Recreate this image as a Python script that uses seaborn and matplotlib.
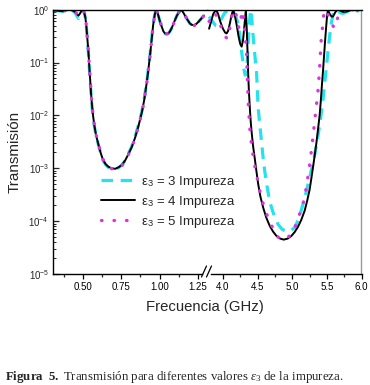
import matplotlib
matplotlib.use("Agg")
import matplotlib.pyplot as plt
from matplotlib.lines import Line2D
from matplotlib.ticker import FixedLocator, MultipleLocator, LogLocator, NullFormatter
import seaborn as sns

# ---------------- data ----------------
freq_left = [0.30, 0.34, 0.37, 0.40, 0.43, 0.45, 0.462, 0.47, 0.478, 0.488, 0.497,
             0.507, 0.515, 0.521, 0.526, 0.531, 0.536, 0.541, 0.547, 0.552, 0.558,
             0.565, 0.573, 0.585, 0.60, 0.615, 0.63, 0.647, 0.665, 0.687, 0.71,
             0.733, 0.755, 0.775, 0.795, 0.818, 0.84, 0.862, 0.885, 0.90, 0.917,
             0.928, 0.938, 0.948, 0.958, 0.968, 0.977, 0.988, 1.003, 1.015, 1.025,
             1.036, 1.047, 1.057, 1.068, 1.079, 1.09, 1.10, 1.112, 1.125, 1.14,
             1.152, 1.166, 1.18, 1.198, 1.212, 1.226, 1.24, 1.257, 1.275, 1.29]
T_left_e3 = [0.97, 0.95, 0.93, 1.0, 0.97, 0.86, 0.74, 0.68, 0.76, 0.92, 1.0,
             0.88, 0.70, 0.49, 0.32, 0.21, 0.135, 0.077, 0.042, 0.025, 0.0150,
             0.0096, 0.0064, 0.0041, 0.0028, 0.00192, 0.00142, 0.00118, 0.00104, 0.00097, 0.00096,
             0.00103, 0.00116, 0.00140, 0.00186, 0.0026, 0.0040, 0.0066, 0.0122, 0.021, 0.045,
             0.082, 0.145, 0.28, 0.52, 0.80, 1.0, 0.85, 0.59, 0.47, 0.39,
             0.355, 0.345, 0.355, 0.39, 0.45, 0.54, 0.63, 0.76, 0.89, 1.0,
             0.91, 0.78, 0.66, 0.55, 0.51, 0.51, 0.54, 0.60, 0.69, 0.78]
T_left_e4 = [0.977, 0.955, 0.933, 1.0, 0.977, 0.891, 0.813, 0.776, 0.832, 0.933, 1.0,
             0.891, 0.708, 0.501, 0.331, 0.219, 0.141, 0.0794, 0.0437, 0.0263, 0.0158,
             0.0100, 0.00661, 0.00417, 0.00282, 0.00195, 0.00145, 0.00120, 0.00107, 0.00100, 0.000977,
             0.00105, 0.00117, 0.00141, 0.00182, 0.00251, 0.00380, 0.00631, 0.0117, 0.0200, 0.0437,
             0.0794, 0.141, 0.269, 0.513, 0.794, 1.0, 0.851, 0.589, 0.468, 0.389,
             0.355, 0.347, 0.355, 0.389, 0.447, 0.537, 0.631, 0.759, 0.891, 1.0,
             0.912, 0.776, 0.661, 0.550, 0.513, 0.513, 0.537, 0.603, 0.692, 0.776]
T_left_e5 = [0.98, 0.96, 0.93, 1.0, 0.98, 0.90, 0.82, 0.78, 0.84, 0.94, 1.0,
             0.90, 0.72, 0.51, 0.34, 0.225, 0.145, 0.082, 0.045, 0.027, 0.0162,
             0.0103, 0.0068, 0.0043, 0.0029, 0.0020, 0.00148, 0.00121, 0.00106, 0.00098, 0.00094,
             0.00101, 0.00113, 0.00137, 0.00178, 0.00246, 0.0037, 0.0062, 0.0114, 0.0196, 0.042,
             0.078, 0.138, 0.265, 0.50, 0.79, 1.0, 0.86, 0.60, 0.47, 0.40,
             0.36, 0.35, 0.36, 0.39, 0.45, 0.53, 0.62, 0.75, 0.89, 1.0,
             0.91, 0.78, 0.66, 0.55, 0.51, 0.50, 0.53, 0.59, 0.68, 0.77]

freq_right_e3 = [3.80, 3.85, 3.89, 3.92, 3.95, 3.98, 4.02, 4.06, 4.10, 4.14, 4.18,
                 4.21, 4.24, 4.27, 4.30, 4.32, 4.335, 4.35, 4.365, 4.38, 4.395,
                 4.403, 4.415, 4.432, 4.46, 4.485, 4.508, 4.53, 4.557, 4.58, 4.604,
                 4.64, 4.676, 4.72, 4.76, 4.796, 4.85, 4.921, 4.98, 5.036, 5.09,
                 5.151, 5.20, 5.252, 5.29, 5.324, 5.371, 5.41, 5.443, 5.47, 5.492,
                 5.515, 5.54, 5.565, 5.587, 5.61, 5.626, 5.66, 5.70, 5.73, 5.755,
                 5.80, 5.856, 5.91, 5.97]
T_right_e3 = [0.74, 0.60, 0.51, 0.50, 0.56, 0.68, 0.85, 0.95, 1.0, 0.93, 0.79,
              0.60, 0.355, 0.158, 0.079, 0.058, 0.060, 0.10, 0.24, 0.52, 0.89,
              1.0, 0.71, 0.36, 0.141, 0.066, 0.0141, 0.0071, 0.00316, 0.00158, 8.7e-4,
              4.3e-4, 2.34e-4, 1.51e-4, 1.10e-4, 8.7e-5, 7.1e-5, 6.3e-5, 6.6e-5, 7.6e-5, 1.07e-4,
              2.0e-4, 3.5e-4, 6.6e-4, 1.12e-3, 1.78e-3, 4.0e-3, 8.9e-3, 0.019, 0.042, 0.079,
              0.158, 0.316, 0.562, 0.794, 0.955, 1.0, 0.933, 0.871, 0.851, 0.871,
              0.933, 1.0, 0.955, 0.955]

freq_right_e4 = [3.80, 3.83, 3.86, 3.90, 3.93, 3.96, 4.00, 4.03, 4.053, 4.075, 4.10,
                 4.125, 4.148, 4.17, 4.20, 4.225, 4.25, 4.27, 4.29, 4.31, 4.331,
                 4.345, 4.355, 4.364, 4.375, 4.388, 4.40, 4.413, 4.435, 4.46, 4.485,
                 4.508, 4.54, 4.58, 4.625, 4.676, 4.725, 4.773, 4.825, 4.878, 4.935,
                 4.988, 5.035, 5.083, 5.13, 5.18, 5.215, 5.252, 5.275, 5.299, 5.323,
                 5.348, 5.372, 5.396, 5.413, 5.429, 5.445, 5.458, 5.475, 5.492, 5.503,
                 5.515, 5.53, 5.55, 5.57, 5.587, 5.605, 5.625, 5.659, 5.70, 5.73,
                 5.76, 5.80, 5.84, 5.88, 5.93, 5.97]
T_right_e4 = [0.437, 0.603, 0.832, 1.0, 0.832, 0.603, 0.437, 0.372, 0.355, 0.398, 0.550,
              0.794, 1.0, 0.794, 0.501, 0.316, 0.224, 0.200, 0.263, 0.501, 1.0,
              0.398, 0.158, 0.0631, 0.0282, 0.0141, 0.00794, 0.00501, 0.00263, 0.00151, 8.5e-4,
              5.1e-4, 2.95e-4, 1.82e-4, 1.17e-4, 8.1e-5, 6.3e-5, 5.25e-5, 4.68e-5, 4.47e-5, 4.68e-5,
              5.25e-5, 6.2e-5, 7.8e-5, 1.05e-4, 1.58e-4, 2.4e-4, 3.98e-4, 6.3e-4, 1.02e-3, 1.70e-3,
              2.95e-3, 5.4e-3, 0.0102, 0.0191, 0.038, 0.0708, 0.126, 0.263, 0.513, 0.759,
              1.0, 0.891, 0.794, 0.741, 0.741, 0.813, 0.912, 1.0, 0.955, 0.912,
              0.912, 0.933, 0.977, 0.977, 1.0, 1.0]

freq_right_e5 = [3.80, 3.84, 3.885, 3.93, 3.98, 4.02, 4.062, 4.10, 4.129, 4.15, 4.173,
                 4.20, 4.23, 4.25, 4.265, 4.278, 4.292, 4.306, 4.325, 4.341, 4.353,
                 4.367, 4.388, 4.41, 4.436, 4.46, 4.485, 4.52, 4.557, 4.60, 4.652,
                 4.70, 4.748, 4.79, 4.835, 4.885, 4.935, 4.975, 5.012, 5.05, 5.083,
                 5.12, 5.155, 5.185, 5.209, 5.245, 5.276, 5.30, 5.324, 5.348, 5.371,
                 5.385, 5.396, 5.408, 5.42, 5.432, 5.443, 5.458, 5.47, 5.50, 5.54,
                 5.575, 5.612, 5.645, 5.683, 5.75, 5.827, 5.90, 5.971]
T_right_e5 = [0.60, 0.76, 0.87, 0.66, 0.45, 0.33, 0.28, 0.45, 0.76, 0.93, 1.0,
              0.71, 0.45, 0.50, 0.76, 0.95, 0.79, 0.51, 0.30, 0.158, 0.047,
              0.0158, 0.0056, 0.0030, 0.0017, 0.0011, 7.6e-4, 4.4e-4, 2.75e-4, 1.74e-4, 1.15e-4,
              8.3e-5, 6.5e-5, 5.1e-5, 4.5e-5, 4.5e-5, 4.9e-5, 5.5e-5, 6.5e-5, 8.3e-5, 1.15e-4,
              1.5e-4, 2.1e-4, 3.2e-4, 4.9e-4, 1.0e-3, 2.1e-3, 4.0e-3, 7.8e-3, 0.0151, 0.028,
              0.050, 0.083, 0.158, 0.29, 0.40, 0.56, 0.89, 1.0, 0.89, 0.71,
              0.52, 0.45, 0.63, 0.91, 1.0, 0.95, 1.0, 0.95]

series_labels = ["ε$_\\mathsf{3}$ = 3 Impureza",
                 "ε$_\\mathsf{3}$ = 4 Impureza",
                 "ε$_\\mathsf{3}$ = 5 Impureza"]
left_ticks = [0.50, 0.75, 1.00, 1.25]
left_ticklabels = ["0.50", "0.75", "1.00", "1.25"]
right_ticks = [4.0, 4.5, 5.0, 5.5, 6.0]
right_ticklabels = ["4.0", "4.5", "5.0", "5.5", "6.0"]
x_label = "Frecuencia (GHz)"
y_label = "Transmisión"
caption = ("$\\mathbf{Figura\\ \\ 5.}$ Transmisión para diferentes valores "
           "$\\varepsilon_3$ de la impureza.")

# ---------------- style ----------------
sns.set_style("white")
plt.rcParams.update({
    "mathtext.fontset": "custom",
    "mathtext.rm": "Liberation Serif",
    "mathtext.it": "Liberation Serif:italic",
    "mathtext.bf": "Liberation Serif:bold",
    "mathtext.sf": "Liberation Sans",
    "axes.unicode_minus": False,
    "axes.edgecolor": "black",
    "axes.linewidth": 1.0,
})
plt.rcParams["font.family"] = ["Liberation Sans", "DejaVu Sans"]

W, H = 370, 385
fig = plt.figure(figsize=(W / 100, H / 100), dpi=100)
L, R, B, T, BRK = 52.5, 361.5, 274, 9.7, 207
ax1 = fig.add_axes([L / W, 1 - B / H, (BRK - L) / W, (B - T) / H])
ax2 = fig.add_axes([BRK / W, 1 - B / H, (R - BRK) / W, (B - T) / H], sharey=ax1)

colors = ["#25E2EE", "black", "#DD33DD"]
widths = [2.3, 1.4, 2.4]
linestyles = [(0, (3.6, 2.4)), "-", (0, (0.15, 3.6))]
capstyles = ["butt", "butt", "round"]

for ax in (ax1, ax2):
    ax.set_yscale("log")

left_sets = [(freq_left, T_left_e3), (freq_left, T_left_e4), (freq_left, T_left_e5)]
right_sets = [(freq_right_e3, T_right_e3), (freq_right_e4, T_right_e4),
              (freq_right_e5, T_right_e5)]
for (xl, yl), (xr, yr), c, lw in zip(left_sets, right_sets, colors, widths):
    sns.lineplot(x=xl, y=yl, ax=ax1, errorbar=None, legend=False, color=c, linewidth=lw)
    sns.lineplot(x=xr, y=yr, ax=ax2, errorbar=None, legend=False, color=c, linewidth=lw)

for ax in (ax1, ax2):
    for line, ls, cs in zip(ax.get_lines(), linestyles, capstyles):
        line.set_linestyle(ls)
        line.set_dash_capstyle(cs)

ax1.set_xlim(0.30, 1.31)
ax2.set_xlim(3.77, 6.0)
ax1.set_ylim(1e-5, 1.0)

for ax in (ax1, ax2):
    ax.set_xlabel("")
    ax.set_ylabel("")

ax1.spines["right"].set_visible(False)
ax2.spines["left"].set_visible(False)
ax2.spines["right"].set_color("#9a9a9a")
ax2.spines["right"].set_linewidth(1.0)
ax1.spines["bottom"].set_bounds(0.30, 1.28)
ax2.spines["bottom"].set_bounds(3.83, 6.0)

# x ticks
ax1.xaxis.set_major_locator(FixedLocator(left_ticks))
ax1.set_xticklabels(left_ticklabels)
ax1.xaxis.set_minor_locator(MultipleLocator(0.125))
ax2.xaxis.set_major_locator(FixedLocator(right_ticks))
ax2.set_xticklabels(right_ticklabels)
ax2.xaxis.set_minor_locator(MultipleLocator(0.25))
for ax in (ax1, ax2):
    ax.tick_params(axis="x", which="major", direction="out", length=3.5, width=0.9,
                   labelsize=7, pad=2.5, bottom=True, top=False, colors="black")
    ax.tick_params(axis="x", which="minor", direction="out", length=2.5, width=0.9,
                   bottom=True, top=False)

# y ticks
ax1.yaxis.set_major_locator(LogLocator(base=10, numticks=10))
ax1.yaxis.set_minor_locator(LogLocator(base=10, subs=range(2, 10), numticks=10))
ax1.yaxis.set_minor_formatter(NullFormatter())
ax1.tick_params(axis="y", which="major", direction="in", length=4, width=0.9,
                labelsize=7, pad=2.5, left=True, right=False)
ax1.tick_params(axis="y", which="minor", direction="in", length=2, width=0.7,
                left=True, right=False)
ax2.tick_params(axis="y", which="both", left=False, right=False,
                labelleft=False, labelright=False)

# axis break marks on the bottom axis
for x0 in (201.5, 206.5):
    fig.add_artist(Line2D([x0 / W, (x0 + 5) / W], [1 - 277 / H, 1 - 266 / H],
                          color="black", lw=0.9, transform=fig.transFigure))

# labels
fig.text(205 / W, 1 - 307 / H, x_label, ha="center", va="center", fontsize=10.7)
fig.text(15 / W, 1 - 152 / H, y_label, ha="center", va="center", rotation=90,
         fontsize=11)

# legend
handles = ax1.get_lines()[:3]
fig.legend(handles, series_labels, loc="upper left",
           bbox_to_anchor=(101 / W, 1 - 174 / H), bbox_transform=fig.transFigure,
           frameon=False, fontsize=9.5, handlelength=2.6, handletextpad=0.45,
           labelspacing=0.3, borderpad=0, borderaxespad=0)

# caption
fig.text(5 / W, 1 - 377 / H, caption, ha="left", va="center", fontsize=9.3,
         family="Liberation Serif")

fig.savefig("out.png", dpi=100, facecolor="white")
